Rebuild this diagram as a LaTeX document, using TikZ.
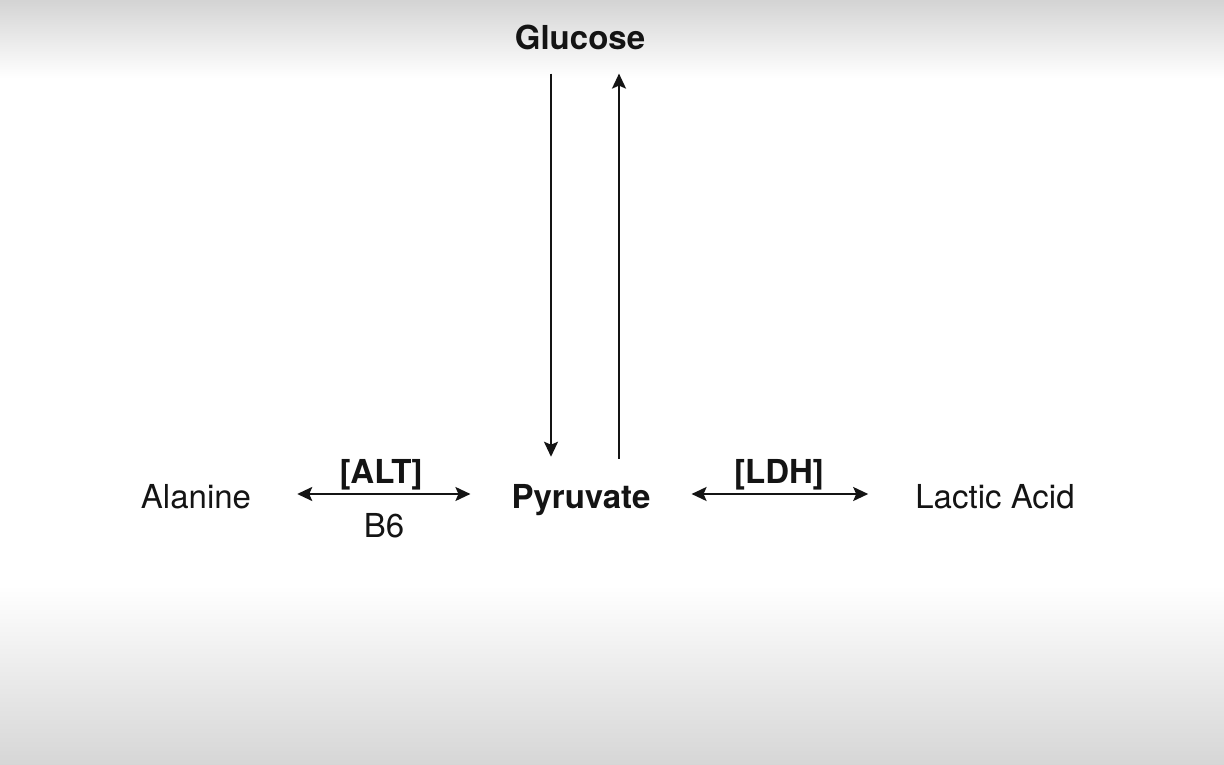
\documentclass[tikz,border=0pt]{standalone}
\usepackage{fontspec}
\setmainfont{TeX Gyre Heros}
\usetikzlibrary{arrows.meta}
\begin{document}
\begin{tikzpicture}[x=1pt,y=-1pt,
  lbl/.style={inner sep=0pt, anchor=base, font=\fontsize{33}{36}\selectfont, text=black!92},
  blbl/.style={lbl, font=\fontsize{33}{36}\selectfont\bfseries},
  arr/.style={line width=2pt, draw=black!92, -{Stealth[length=15pt,width=14pt,inset=3pt]}},
  dbl/.style={line width=2pt, draw=black!92, {Stealth[length=15pt,width=14pt,inset=3pt]}-{Stealth[length=15pt,width=14pt,inset=3pt]}}]
\useasboundingbox (0,0) rectangle (1224,765);
\fill[white] (0,0) rectangle (1224,765);
\shade[top color=black!17, bottom color=white] (0,0) rectangle (1224,78);
\shade[top color=white, bottom color=black!16] (0,585) rectangle (1224,765);
% nodes
\node[blbl] (glu) at (580,50) {Glucose};
\node[blbl] (pyr) at (581,508) {Pyruvate};
\node[lbl] (ala) at (196,508) {Alanine};
\node[lbl] (lac) at (995,508) {Lactic Acid};
\node[blbl] (alt) at (381,483) {[ALT]};
\node[lbl] (b6) at (384,537) {B6};
\node[blbl] (ldh) at (779,483) {[LDH]};
% vertical connectors
\coordinate (gd) at ([xshift=-29pt,yshift=-23pt]glu.south);
\coordinate (gu) at ([xshift=39pt,yshift=-23pt]glu.south);
\coordinate (pt) at ([yshift=27pt]pyr.north);
\coordinate (pb) at ([yshift=25pt]pyr.north);
\draw[arr] (gd) -- (gd |- pt);
\draw[arr] (gu |- pb) -- (gu);
% horizontal connectors
\draw[dbl] ([shift={(46pt,14pt)}]ala.base east) -- ([shift={(-41pt,14pt)}]pyr.base west);
\draw[dbl] ([shift={(41pt,14pt)}]pyr.base east) -- ([shift={(-47pt,14pt)}]lac.base west);
\end{tikzpicture}
\end{document}
